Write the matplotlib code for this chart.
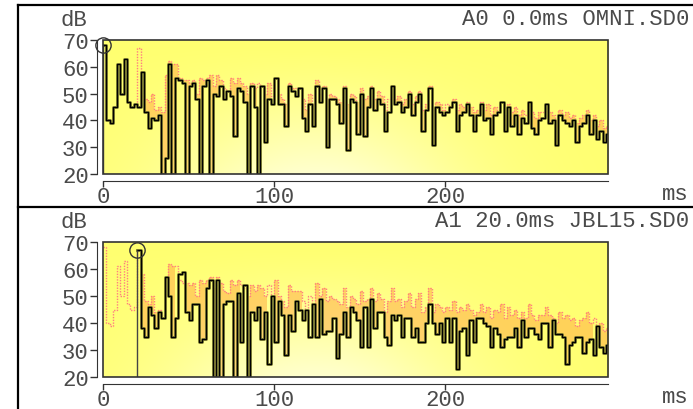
import matplotlib
matplotlib.use('Agg')
import matplotlib.pyplot as plt
import numpy as np
from matplotlib.lines import Line2D
from matplotlib.patches import Rectangle

plt.rcParams['font.family'] = ['Liberation Mono', 'DejaVu Sans Mono']

# time bins, 2 ms wide
t = np.arange(0, 296, 2)

# OMNI receiver level per bin (dB)
omni_db = [68, 40, 39, 45, 61, 50, 63, 47, 45, 46,
           45, 58, 43, 37, 41, 40, 42, 20, 26, 61,
           20, 56, 55, 54, 20, 53, 54, 48, 20, 53,
           55, 20, 50, 49, 53, 48, 51, 49, 34, 52,
           51, 47, 20, 53, 45, 20, 53, 32, 48, 46,
           56, 46, 46, 38, 53, 51, 49, 52, 41, 36,
           46, 38, 53, 47, 52, 30, 48, 48, 46, 39,
           52, 29, 48, 47, 35, 50, 34, 45, 52, 44,
           48, 46, 36, 43, 53, 46, 47, 43, 45, 50,
           42, 47, 50, 36, 44, 52, 31, 45, 43, 42,
           43, 45, 47, 36, 42, 43, 46, 42, 36, 42,
           46, 40, 41, 35, 42, 43, 47, 36, 45, 38,
           42, 35, 41, 39, 47, 37, 35, 40, 41, 46,
           39, 40, 31, 42, 40, 39, 38, 40, 32, 38,
           39, 42, 35, 40, 33, 36, 32, 35]

# reference (total) level, drawn in pink/orange behind both curves
ref_db = [68, 40, 39, 45, 61, 50, 63, 47, 45, 46,
          67, 58, 48, 47, 50, 44, 45, 43, 57, 62,
          61, 61, 56, 55, 55, 54, 55, 50, 56, 55,
          56, 57, 53, 57, 55, 52, 51, 56, 54, 56,
          54, 53, 50, 54, 52, 54, 53, 50, 54, 49,
          56, 50, 48, 46, 54, 52, 52, 52, 48, 44,
          50, 46, 55, 50, 53, 48, 50, 49, 48, 47,
          53, 46, 50, 49, 47, 52, 48, 49, 53, 48,
          51, 49, 44, 48, 53, 48, 49, 46, 48, 51,
          46, 49, 51, 44, 46, 53, 44, 47, 46, 44,
          46, 45, 48, 44, 46, 45, 47, 45, 43, 44,
          47, 44, 46, 42, 45, 44, 47, 42, 46, 43,
          45, 42, 44, 42, 47, 43, 41, 43, 43, 46,
          43, 42, 40, 44, 42, 43, 41, 42, 39, 41,
          42, 44, 40, 42, 38, 40, 37, 38]

# JBL15 receiver level per bin (dB), starts at 20 ms
nan = np.nan
jbl_db = [nan, nan, nan, nan, nan, nan, nan, nan, nan, nan,
          67, 38, 35, 46, 43, 38, 44, 42, 57, 50,
          35, 42, 58, 59, 44, 41, 47, 47, 33, 34,
          53, 56, 20, 56, 20, 47, 48, 48, 20, 51,
          33, 54, 20, 44, 41, 46, 34, 44, 25, 50,
          33, 48, 43, 28, 43, 37, 48, 45, 41, 45,
          35, 47, 35, 49, 36, 37, 37, 42, 27, 36,
          44, 35, 46, 44, 41, 31, 46, 31, 49, 38,
          44, 44, 35, 32, 43, 41, 43, 35, 42, 42,
          35, 38, 33, 33, 40, 47, 40, 36, 40, 33,
          42, 33, 42, 23, 37, 38, 28, 41, 33, 42,
          42, 40, 39, 31, 38, 36, 31, 34, 35, 35,
          38, 31, 41, 35, 38, 38, 36, 34, 40, 40,
          31, 41, 36, 36, 35, 25, 32, 33, 35, 35,
          29, 33, 34, 28, 39, 31, 29, 32]

panels = [
    ("A0 0.0ms OMNI.SD0", omni_db, 0.0, 68),
    ("A1 20.0ms JBL15.SD0", jbl_db, 20.0, 67),
]

W, H = 693, 410
fig = plt.figure(figsize=(W / 100, H / 100), dpi=100)
txt = '#4a4a4a'
fs = 16

# background gradient for the plot area
gx, gy = np.meshgrid(np.linspace(0, 1, 200), np.linspace(0, 1, 60))
w = np.exp(-((gx - 0.42) / 0.3) ** 2) * (1 - gy) ** 1.3 * 0.8
yellow = np.array([1.0, 1.0, 0.44])
pale = np.array([1.0, 1.0, 0.9])
bg = yellow[None, None, :] * (1 - w[..., None]) + pale[None, None, :] * w[..., None]

te = np.append(t, 296)
axes_pos = [[103 / W, 1 - 175 / H, 505 / W, 134 / H],
            [103 / W, 1 - 378 / H, 505 / W, 135 / H]]

for k, (title, vals, t0, peak) in enumerate(panels):
    ax = fig.add_axes(axes_pos[k])
    v = np.array(vals, dtype=float)
    r = np.array(ref_db, dtype=float)
    ve = np.append(v, v[-1])
    re = np.append(r, r[-1])

    ax.imshow(bg, extent=[0, 295, 20, 70], aspect='auto', origin='lower', zorder=0)

    ok = ~np.isnan(ve)
    lower = np.where(ok, ve, 20)
    ax.fill_between(te, lower, re, where=ok & (re > lower), step='post',
                    color='#ffa640', alpha=0.5, lw=0, zorder=1)
    ax.step(te, re, where='post', color='#ff7f7f', lw=1.0, ls=(0, (1, 1)), zorder=2)

    ax.step(te, ve, where='post', color='#7a7a30', lw=2.0, zorder=3)
    ax.step(te, ve, where='post', color='black', lw=0.9, zorder=4)

    ax.vlines(t0, 20, peak, color='#444444', lw=1.0, zorder=4)
    ax.plot([t0], [peak], 'o', ms=11, mfc='none', mec='#333333', mew=1.0,
            zorder=5, clip_on=False)

    ax.add_patch(Rectangle((0, 20), 295, 50, fill=False, ec='#333333', lw=1.2,
                           zorder=6, clip_on=False))

    ax.set_xlim(0, 295)
    ax.set_ylim(20, 70)
    ax.set_yticks(np.arange(20, 71, 10))
    ax.set_xticks([0, 100, 200])
    for s in ['top', 'right']:
        ax.spines[s].set_visible(False)
    ax.spines['left'].set_position(('outward', 4.3))
    ax.spines['bottom'].set_position(('outward', 5))
    ax.spines['left'].set_color('#333333')
    ax.spines['bottom'].set_color('#333333')
    ax.tick_params(axis='y', direction='out', length=5, width=1, color='#333333',
                   labelsize=fs, labelcolor=txt, pad=1)
    ax.tick_params(axis='x', direction='out', length=4, width=1, color='#333333',
                   labelsize=fs, labelcolor=txt, pad=0)

    top = axes_pos[k][1] + axes_pos[k][3]
    fig.text(60 / W, top + 20 / H, "dB", fontsize=fs, color=txt, va='center', ha='left')
    fig.text(689 / W, top + 21 / H, title, fontsize=fs, color=txt, va='center', ha='right')
    fig.text(689 / W, axes_pos[k][1] - 20 / H, "ms", fontsize=fs, color=txt,
             va='center', ha='right')

# panel frame lines
frame = dict(color='black', lw=1.6, transform=fig.transFigure)
fig.add_artist(Line2D([18 / W, 18 / W], [0, 1 - 6 / H], **frame))
fig.add_artist(Line2D([18 / W, 1], [1 - 6 / H, 1 - 6 / H], **frame))
fig.add_artist(Line2D([18 / W, 1], [1 - 208 / H, 1 - 208 / H], **frame))

fig.savefig('out.png', dpi=100)
